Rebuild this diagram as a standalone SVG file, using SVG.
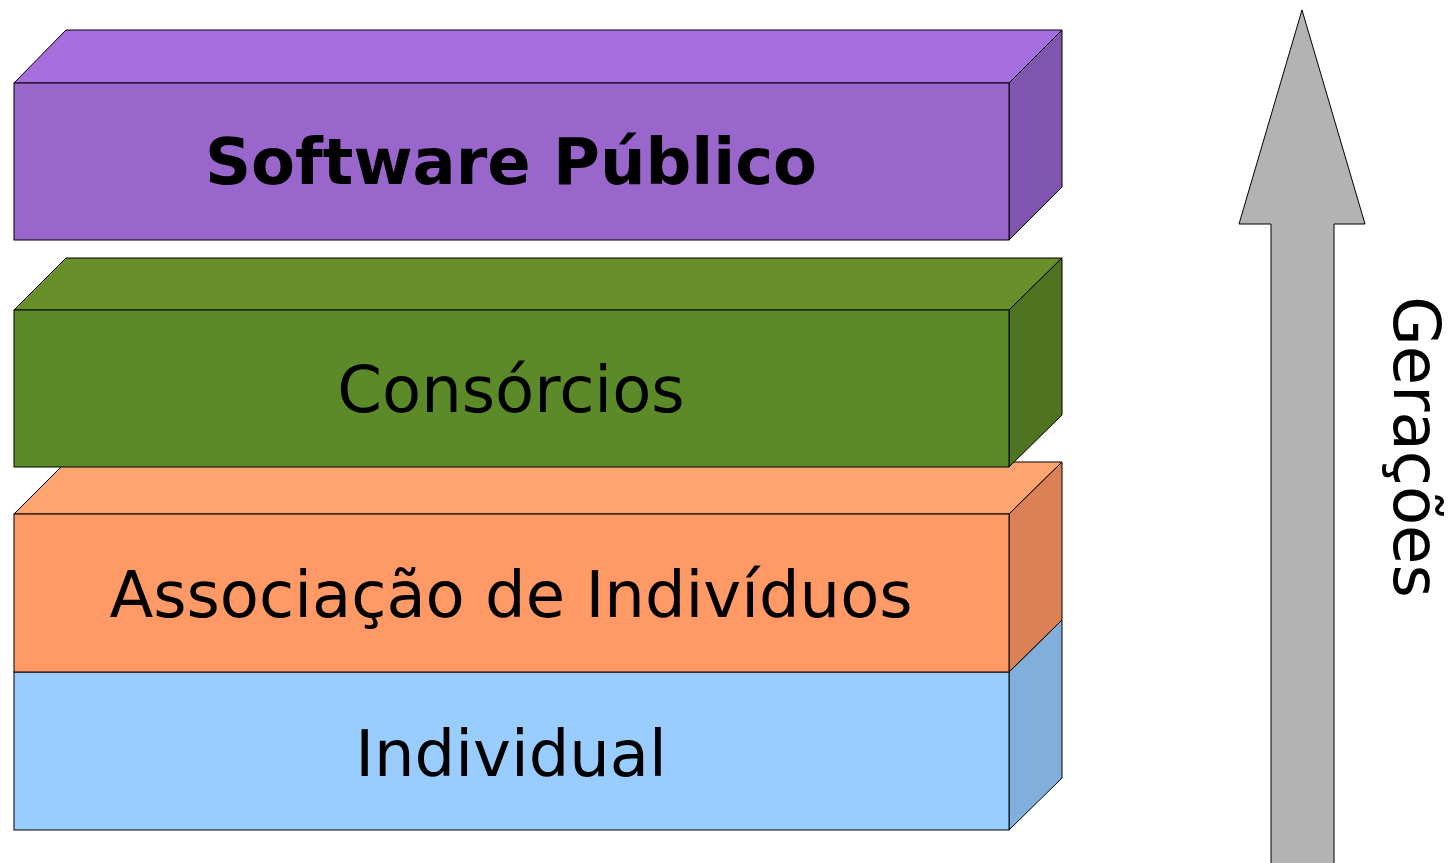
<svg xmlns="http://www.w3.org/2000/svg" width="1456" height="863" viewBox="0 0 1456 863">
<style>
.s{stroke:#000;stroke-width:1;stroke-linejoin:miter}
.t{font-family:"DejaVu Sans",sans-serif;font-size:64px;fill:#000;text-anchor:middle}
</style>
<rect width="1456" height="863" fill="#fff"/>
<g id="individual">
<polygon class="s" points="14,672 66,620 1062,620 1009,672" fill="#a6d4ff"/>
<polygon class="s" points="1009,672 1062,620 1062,778 1009,830" fill="#80afdb"/>
<rect class="s" x="14" y="672" width="995" height="158" fill="#99ccff"/>
<text class="t" x="511" y="776">Individual</text>
</g>
<g id="associacao">
<polygon class="s" points="14,514 66,462 1062,462 1009,514" fill="#ffa56f"/>
<polygon class="s" points="1009,514 1062,462 1062,620 1009,672" fill="#da8156"/>
<rect class="s" x="14" y="514" width="995" height="158" fill="#ff9966"/>
<text class="t" x="511" y="617">Associação de Indivíduos</text>
</g>
<g id="consorcios">
<polygon class="s" points="14,310 66,258 1062,258 1009,310" fill="#678f2a"/>
<polygon class="s" points="1009,310 1062,258 1062,415 1009,467" fill="#4e7321"/>
<rect class="s" x="14" y="310" width="995" height="157" fill="#5c8a29"/>
<text class="t" x="511" y="412">Consórcios</text>
</g>
<g id="software-publico">
<polygon class="s" points="14,83 66,30 1062,30 1009,83" fill="#a66fdd"/>
<polygon class="s" points="1009,83 1062,30 1062,187 1009,240" fill="#8055b0"/>
<rect class="s" x="14" y="83" width="995" height="157" fill="#9966cc"/>
<text class="t" x="511" y="184" font-weight="bold">Software Público</text>
</g>
<g id="connectors">
<polygon class="s" points="1302,10 1365,224 1334,224 1334,870 1271,870 1271,224 1239,224" fill="#b3b3b3"/>
</g>
<g id="geracoes">
<text class="t" transform="translate(1394,447) rotate(90)">Gerações</text>
</g>
</svg>
